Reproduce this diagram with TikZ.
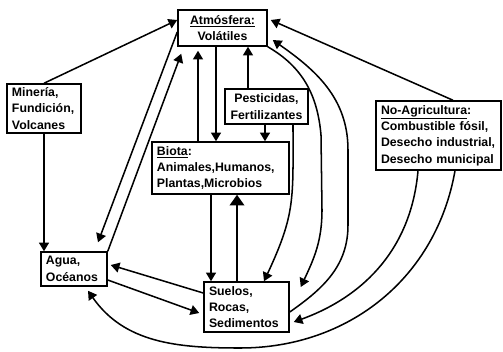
\documentclass[tikz,border=0pt]{standalone}
\usepackage{fontspec}
\setmainfont{Liberation Sans}
\usetikzlibrary{arrows.meta,calc}

\begin{document}
\begin{tikzpicture}[x=0.03cm,y=-0.03cm,
	caja/.style={draw,line width=1.3pt,inner xsep=0.15cm,inner ysep=1pt,font=\bfseries\fontsize{10.5}{14}\selectfont},
	flecha/.style={line width=1.3pt,-{Triangle[length=2.6mm,width=3mm]}}]
	\useasboundingbox (0,0) rectangle (503,351);
	\node[caja,text width=2.37cm,align=center,minimum height=1.08cm] (atm) at (222.5,28) {\underline{Atmósfera:}\\Volátiles};
	\node[caja,text width=1.92cm,align=left,minimum height=1.47cm] (mina) at (44,108.5) {Minería,\\Fundición,\\Volcanes};
	\node[caja,text width=2.2cm,align=center,minimum height=1.05cm] (pest) at (266.5,106.5) {Pesticidas,\\Fertilizantes};
	\node[caja,text width=3.81cm,align=left,minimum height=1.56cm] (biota) at (220.5,168) {\underline{Biota}:\\Animales,Humanos,\\Plantas,Microbios};
	\node[caja,text width=3.45cm,align=left,minimum height=2.07cm] (noagri) at (438.5,135.5) {\underline{No-Agricultura}:\\Combustible fósil,\\Desecho industrial,\\Desecho municipal};
	\node[caja,text width=1.68cm,align=left,minimum height=1.02cm] (agua) at (74,269) {Agua,\\Océanos};
	\node[caja,text width=2.25cm,align=left,minimum height=1.5cm] (suelos) at (246.5,307) {Suelos,\\Rocas,\\Sedimentos};
	\draw[flecha] (mina.north) -- ([yshift=0.24cm]atm.west);
	\draw[flecha] (mina.south) -- (mina.south |- agua.north);
	\draw[flecha] ([yshift=-0.12cm]atm.west) -- ([xshift=0.72cm,yshift=0.27cm]agua.north);
	\draw[flecha] (agua.north east) -- ([xshift=0.12cm,yshift=-0.21cm]atm.south west);
	\draw[flecha] ([xshift=-0.675cm]biota.north) -- ([xshift=-0.735cm,yshift=-0.12cm]atm.south);
	\draw[flecha] ([xshift=-0.195cm]atm.south) -- ([xshift=-0.135cm]biota.north);
	\draw[flecha] ([xshift=-0.555cm]pest.north) -- ([xshift=0.765cm]atm.south);
	\draw[flecha] ([xshift=-0.045cm]pest.south) -- ([xshift=1.335cm]biota.north);
	\draw[flecha] ([xshift=0.795cm]pest.south) to[out=-90,in=65,looseness=1.2] ([xshift=0.525cm]suelos.north);
	\draw[flecha] ([xshift=-0.285cm]biota.south) -- ([xshift=-1.065cm]suelos.north);
	\draw[flecha,-{Triangle[length=3.2mm,width=4.4mm]}] ([xshift=-0.285cm]suelos.north) -- ([xshift=0.495cm]biota.south);
	\draw[flecha] (atm.south east) to[out=-30,in=95] (321,135) -- (322,210) to[out=-90,in=65] ([xshift=0.33cm,yshift=0.6cm]suelos.east);
	\draw[flecha] ([yshift=-0.15cm]suelos.east) to[out=35,in=-90] (348,225) -- (348,150) to[out=90,in=-35] ([xshift=0.15cm,yshift=-0.36cm]atm.east);
	\draw[flecha] ([xshift=0.435cm]noagri.north) -- ([xshift=0.09cm,yshift=0.24cm]atm.east);
	\draw[flecha] ([xshift=-0.615cm]noagri.south) to[out=-95,in=20] ([xshift=0.12cm,yshift=-0.45cm]suelos.east);
	\draw[flecha] ([xshift=0.495cm]noagri.south) to[out=-100,in=0] (240,348) to[out=180,in=-55] ([xshift=0.42cm,yshift=-0.12cm]agua.south);
	\draw[flecha] ([yshift=0.42cm]suelos.west) -- ([xshift=0.09cm,yshift=0.12cm]agua.east);
	\draw[flecha] ([yshift=-0.33cm]agua.east) -- ([xshift=-0.12cm,yshift=-0.18cm]suelos.west);
\end{tikzpicture}
\end{document}
